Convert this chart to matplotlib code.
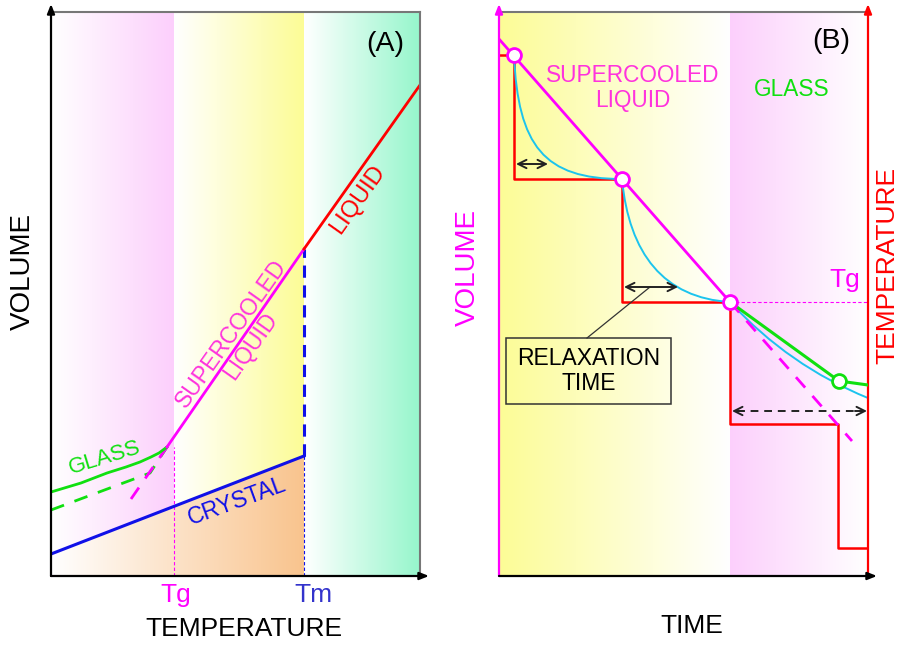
import numpy as np
import matplotlib.pyplot as plt
import matplotlib.colors as mcolors
from matplotlib.patches import Polygon, Rectangle, PathPatch
from matplotlib.path import Path

plt.rcParams['font.family'] = ['Liberation Sans', 'DejaVu Sans']

# both panels use the same frame: x 0..369, y 0..564 (schematic units)
X_MAX, Y_MAX = 369, 564

# ---- panel (A): volume vs temperature
T_g, T_m = 123, 253
crystal_T = [0, 253]
crystal_V = [22, 120]
liquid_T = [253, 369]
liquid_V = [327, 491]
scl_T = [116, 253]
scl_V = [129, 327]
scl_ext_T = [80, 116]
scl_ext_V = [77, 129]
glass_T = [0, 30, 56, 75, 89, 100, 108, 116]
glass_V = [84, 93, 103, 109, 114, 119, 123, 129]
glass_slow_T = [0, 99, 116]
glass_slow_V = [66, 103, 129]

# ---- panel (B): volume / temperature vs time
circ_t = [15, 123, 231]
circ_v = [521, 397, 274]
scl_t = [0, 231]
scl_v = [537, 274]
scl_dash_t = [231, 353]
scl_dash_v = [274, 135]
temp_t = [0, 15, 15, 123, 123, 231, 231, 339, 339, 369]
temp_v = [521, 521, 397, 397, 274, 274, 152, 152, 28, 28]
glassB_t = [231, 340, 369]
glassB_v = [274, 195, 191]
relax1 = [(15, 521), (19, 430), (45, 397), (123, 397)]
relax2 = [(123, 397), (130, 322), (165, 278), (231, 274)]
relax3 = [(231, 274), (290, 210), (369, 178)]
Tg_level = 274

PINK = '#fccffc'
YELLOW = '#fcfc96'
GREEN = '#96f6cc'
PEACH = '#f9c48e'
MAG = '#ff00ff'
TXT_MAG = '#ff33dd'
GRN = '#10e010'
BLUE = '#1010e8'
CYAN = '#1cc4ee'
GRAY = '#777777'


def gradient(ax, x0, x1, y0, y1, color, fade_right=False, clip=None):
    c = np.array(mcolors.to_rgb(color))
    f = np.linspace(0, 1, 256)
    if fade_right:
        f = f[::-1]
    img = 1 - f[None, :, None] * (1 - c[None, None, :])
    im = ax.imshow(img, extent=(x0, x1, y0, y1), aspect='auto',
                   interpolation='bilinear', zorder=0)
    if clip is not None:
        im.set_clip_path(clip)


def axis_arrow(ax, start, end, color):
    ax.annotate('', xy=end, xytext=start, annotation_clip=False,
                arrowprops=dict(arrowstyle='-|>,head_length=0.55,head_width=0.22',
                                color=color, lw=1.6, shrinkA=0, shrinkB=0))


def curve(ax, pts, color, lw):
    codes = [Path.MOVETO] + [Path.CURVE4 if len(pts) == 4 else Path.CURVE3] * (len(pts) - 1)
    ax.add_patch(PathPatch(Path(pts, codes), fill=False, ec=color, lw=lw, zorder=3))


fig = plt.figure(figsize=(9.02, 6.46), dpi=100)
axA = fig.add_axes([51 / 902, 70 / 646, 369 / 902, 564 / 646])
axB = fig.add_axes([499 / 902, 70 / 646, 369 / 902, 564 / 646])

# ================= panel A =================
ax = axA
gradient(ax, 0, T_g, 0, Y_MAX, PINK)
gradient(ax, T_g, T_m, 0, Y_MAX, YELLOW)
gradient(ax, T_m, X_MAX, 0, Y_MAX, GREEN)
under = Polygon([(0, 0), (crystal_T[0], crystal_V[0]), (crystal_T[1], crystal_V[1]), (T_m, 0)],
                closed=True, transform=ax.transData)
gradient(ax, 0, T_m, 0, Y_MAX, PEACH, clip=under)

ax.plot([T_g, T_g], [0, scl_V[0]], color=MAG, lw=0.8, ls=(0, (3, 2)))
ax.plot([T_m, T_m], [0, crystal_V[1]], color=BLUE, lw=0.8, ls=(0, (3, 2)))
ax.plot([T_m, T_m], [crystal_V[1], liquid_V[0]], color=BLUE, lw=2.2, ls=(0, (4, 2.5)))
ax.plot(glass_slow_T, glass_slow_V, color=GRN, lw=2, ls=(0, (5, 4)))
ax.plot(scl_ext_T, scl_ext_V, color=MAG, lw=2, ls=(0, (5, 4)))
ax.plot(glass_T, glass_V, color=GRN, lw=2)
ax.plot(scl_T, scl_V, color=MAG, lw=2)
ax.plot(liquid_T, liquid_V, color='red', lw=2)
ax.plot(crystal_T, crystal_V, color=BLUE, lw=2.2)

ax.text(334, 532, '(A)', fontsize=20.5, ha='center', va='center')
ax.text(307, 376, 'LIQUID', color='red', fontsize=17, rotation=54.7,
        ha='center', va='center')
ax.text(190, 236, 'SUPERCOOLED\nLIQUID', color=TXT_MAG, fontsize=16.5, rotation=54.7,
        ha='center', va='center', linespacing=1.0)
ax.text(54, 118, 'GLASS', color=GRN, fontsize=16, rotation=17,
        ha='center', va='center')
ax.text(186, 75, 'CRYSTAL', color=BLUE, fontsize=16.5, rotation=20,
        ha='center', va='center')
ax.text(-28, 305, 'VOLUME', fontsize=20, rotation=90, ha='center', va='center')
ax.text(193, -53, 'TEMPERATURE', fontsize=19, ha='center', va='center')
ax.text(125, -19, 'Tg', color=MAG, fontsize=19, ha='center', va='center')
ax.text(262, -19, 'Tm', color='#3333cc', fontsize=19, ha='center', va='center')

ax.plot([0, X_MAX], [Y_MAX, Y_MAX], color=GRAY, lw=1.5, clip_on=False)
ax.plot([X_MAX, X_MAX], [0, Y_MAX], color=GRAY, lw=1.5, clip_on=False)
axis_arrow(ax, (0, 0), (0, 572), 'black')
axis_arrow(ax, (0, 0), (378, 0), 'black')

# ================= panel B =================
ax = axB
gradient(ax, 0, circ_t[2], 0, Y_MAX, YELLOW, fade_right=True)
gradient(ax, circ_t[2], X_MAX, 0, Y_MAX, PINK, fade_right=True)

ax.plot([circ_t[2], X_MAX], [Tg_level, Tg_level], color=MAG, lw=0.8, ls=(0, (3, 2)))
ax.plot(temp_t, temp_v, color='red', lw=1.8, zorder=2)
curve(ax, relax1, CYAN, 1.4)
curve(ax, relax2, CYAN, 1.4)
curve(ax, relax3, CYAN, 1.4)
ax.plot(scl_dash_t, scl_dash_v, color=MAG, lw=2, ls=(0, (5, 4)), zorder=3)
ax.plot(glassB_t, glassB_v, color=GRN, lw=2.2, zorder=4)
ax.plot(scl_t, scl_v, color=MAG, lw=2, zorder=4)
ax.plot(circ_t, circ_v, ls='none', marker='o', ms=10, mfc='white', mec=MAG, mew=2, zorder=5)
ax.plot(glassB_t[1], glassB_v[1], ls='none', marker='o', ms=10, mfc='white', mec=GRN, mew=2, zorder=5)

# relaxation-time arrows
arr = dict(arrowstyle='<->,head_length=0.6,head_width=0.3', color='#222222', lw=1.4,
           shrinkA=0, shrinkB=0)
ax.annotate('', xy=(17, 412), xytext=(49, 412), arrowprops=arr)
ax.annotate('', xy=(125, 289), xytext=(179, 289), arrowprops=arr)
ax.plot([238, 363], [165, 165], color='#222222', lw=1.4, ls=(0, (4, 3)))
head = dict(arrowstyle='->,head_length=0.6,head_width=0.3', color='#222222', lw=1.4,
            shrinkA=0, shrinkB=0)
ax.annotate('', xy=(233, 165), xytext=(245, 165), arrowprops=head)
ax.annotate('', xy=(368, 165), xytext=(356, 165), arrowprops=head)

box = [7, 172, 165, 66]
ax.plot([151, 88], [289, box[1] + box[3]], color='#333333', lw=0.9)
ax.add_patch(Rectangle((box[0], box[1]), box[2], box[3], fill=False, ec='#333333', lw=1.1, zorder=4))
ax.text(box[0] + box[2] / 2, box[1] + box[3] / 2, 'RELAXATION\nTIME', fontsize=16.5,
        ha='center', va='center', linespacing=1.1)

ax.text(332, 535, '(B)', fontsize=20.5, ha='center', va='center')
ax.text(134, 488, 'SUPERCOOLED\nLIQUID', color=TXT_MAG, fontsize=16.3,
        ha='center', va='center', linespacing=1.1)
ax.text(293, 487, 'GLASS', color=GRN, fontsize=16.3, ha='center', va='center')
ax.text(346, 296, 'Tg', color=MAG, fontsize=19, ha='center', va='center')
ax.text(-31, 308, 'VOLUME', color=MAG, fontsize=20, rotation=90, ha='center', va='center')
ax.text(388, 311, 'TEMPERATURE', color='red', fontsize=19, rotation=90,
        ha='center', va='center')
ax.text(193, -50, 'TIME', fontsize=19, ha='center', va='center')

ax.plot([0, X_MAX], [Y_MAX, Y_MAX], color=GRAY, lw=1.5, clip_on=False)
axis_arrow(ax, (0, 0), (0, 572), MAG)
axis_arrow(ax, (X_MAX, 0), (X_MAX, 572), 'red')
axis_arrow(ax, (0, 0), (378, 0), 'black')

for a in (axA, axB):
    a.set_xlim(0, X_MAX)
    a.set_ylim(0, Y_MAX)
    a.set_xticks([])
    a.set_yticks([])
    for s in a.spines.values():
        s.set_visible(False)

fig.savefig('out.png', dpi=100)
